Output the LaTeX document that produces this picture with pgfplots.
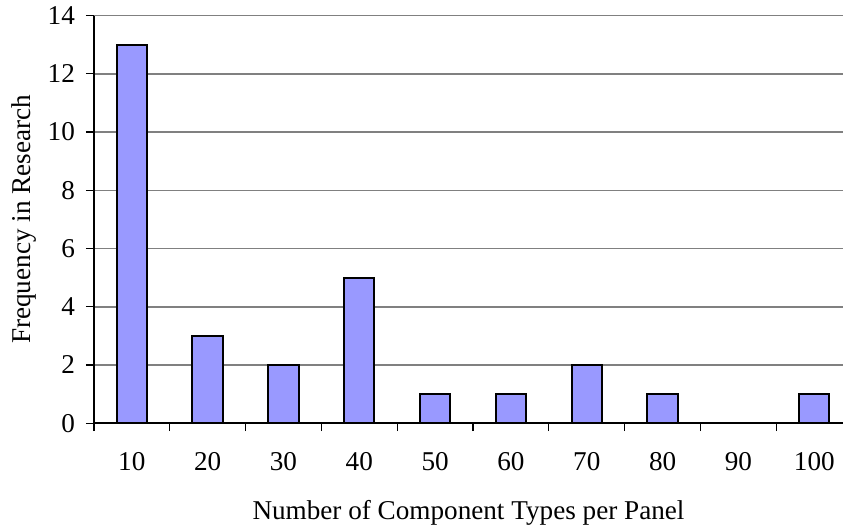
\documentclass[border=0pt]{standalone}
\usepackage{pgfplots}
\pgfplotsset{compat=1.18}
\usepackage{fontspec}
\setmainfont{Liberation Serif}
\definecolor{barblue}{HTML}{9999FF}

\begin{document}
\begin{tikzpicture}
\begin{axis}[
    scale only axis,
    width=375pt, height=204pt,
    xmin=-0.5, xmax=9.38,
    ymin=0, ymax=14,
    axis x line*=bottom, axis y line*=left,
    axis line style={black, line width=0.9pt},
    ybar, bar width=0.4,
    xtick={0,...,9},
    xticklabels={10,20,30,40,50,60,70,80,90,100},
    minor xtick={-0.5,0.5,...,8.5},
    major x tick style={draw=none},
    minor tick length=4pt,
    ytick={0,2,...,14},
    major tick length=4pt,
    tick align=outside,
    tick style={black, line width=0.6pt},
    ymajorgrids,
    grid style={gray, line width=0.8pt},
    font=\fontsize{13.6}{16}\selectfont,
    /pgf/number format/assume math mode=true,
    xticklabel style={yshift=-7pt},
    yticklabel style={xshift=-2pt},
    xlabel={Number of Component Types per Panel},
    ylabel={Frequency in Research},
    xlabel style={yshift=-8pt},
    ylabel style={yshift=-1pt},
]
\addplot[fill=barblue, draw=black, line width=1pt] coordinates {
  (0,13) (1,3) (2,2) (3,5) (4,1) (5,1) (6,2) (7,1) (9,1)};
\end{axis}
\useasboundingbox (current axis.south west) ++(-47pt,-53.5pt) rectangle ([yshift=6pt]current axis.north east);
\end{tikzpicture}
\end{document}
